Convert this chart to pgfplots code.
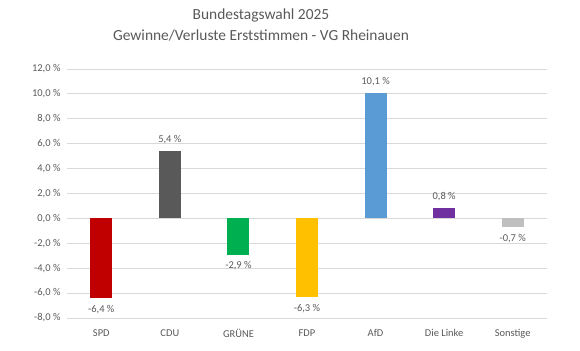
\documentclass[border=0pt]{standalone}
\usepackage{fontspec}
\setmainfont{Carlito}
\usepackage{pgfplots}
\pgfplotsset{compat=1.18}
\definecolor{txt}{HTML}{595959}
\definecolor{gridc}{HTML}{D9D9D9}
\definecolor{cspd}{HTML}{C00000}
\definecolor{ccdu}{HTML}{595959}
\definecolor{cgrn}{HTML}{00B050}
\definecolor{cfdp}{HTML}{FFC000}
\definecolor{cafd}{HTML}{5B9BD5}
\definecolor{clnk}{HTML}{7030A0}
\definecolor{cson}{HTML}{BFBFBF}
\begin{document}
\begin{tikzpicture}
\useasboundingbox (0,0) rectangle (580bp,351bp);
\node[font=\fontsize{15.5}{20}\selectfont, text=txt, anchor=base] at (261bp,331bp) {Bundestagswahl 2025};
\node[font=\fontsize{15.5}{20}\selectfont, text=txt, anchor=base] at (261bp,310bp) {Gewinne/Verluste Erststimmen - VG Rheinauen};
\begin{axis}[
  at={(67bp,33bp)}, anchor=south west,
  scale only axis, width=480bp, height=249bp,
  xmin=-0.5, xmax=6.5, ymin=-8, ymax=12,
  ytick={-8,-6,...,12},
  xtick={0,...,6},
  xticklabels={SPD,CDU,GRÜNE,FDP,AfD,Die Linke,Sonstige},
  axis line style={draw=none},
  major tick length=0pt,
  xmajorgrids=false,
  ymajorgrids, grid style={color=gridc, line width=0.8pt},
  /pgf/number format/assume math mode=true,
  yticklabel={\pgfmathprintnumber[fixed,fixed zerofill,precision=1,use comma]{\tick}\ \%},
  yticklabel style={font=\fontsize{10.5}{12}\selectfont, text=txt, xshift=-3bp},
  xticklabel style={font=\fontsize{10.5}{12}\selectfont, text=txt, yshift=-8bp},
  ybar, bar width=22bp, bar shift=0pt,
  nodes near coords={\pgfmathprintnumber[fixed,fixed zerofill,precision=1,use comma]{\pgfplotspointmeta}\ \%},
  nodes near coords align={vertical},
  every node near coord/.append style={font=\fontsize{10.5}{12}\selectfont, text=txt, inner xsep=1bp, inner ysep=7bp},
  clip=false,
]
\addplot[fill=cspd, draw=none] coordinates {(0,-6.4)};
\addplot[fill=ccdu, draw=none] coordinates {(1,5.4)};
\addplot[fill=cgrn, draw=none] coordinates {(2,-2.9)};
\addplot[fill=cfdp, draw=none] coordinates {(3,-6.3)};
\addplot[fill=cafd, draw=none] coordinates {(4,10.1)};
\addplot[fill=clnk, draw=none] coordinates {(5,0.8)};
\addplot[fill=cson, draw=none] coordinates {(6,-0.7)};
\end{axis}
\end{tikzpicture}
\end{document}
